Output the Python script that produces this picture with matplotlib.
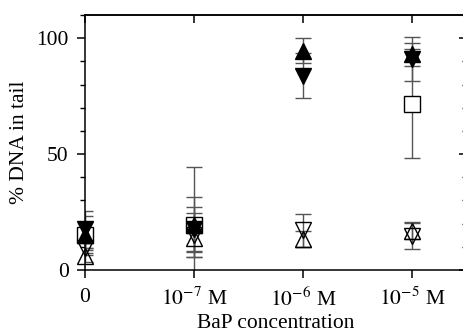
"""Comet assay: % DNA in tail against BaP concentration."""

import matplotlib

matplotlib.use("Agg")
import matplotlib.pyplot as plt
from matplotlib.ticker import MultipleLocator

plt.rcParams["font.family"] = ["Liberation Serif", "DejaVu Serif"]
plt.rcParams["mathtext.fontset"] = "stix"

concentrations = ["0", r"$10^{-7}$ M", r"$10^{-6}$ M", r"$10^{-5}$ M"]

# mean and SD for each group
filled_up_mean = [15.0, 19.5, 94.6, 93.0]
filled_up_sd = [5.5, 11.8, 5.4, 5.0]
filled_down_mean = [17.5, 17.5, 83.8, 91.0]
filled_down_sd = [8.0, 9.5, 9.7, 9.5]
square_mean = [15.0, 19.2, float("nan"), 71.8]
square_sd = [8.5, 25.3, float("nan"), 23.7]
open_up_mean = [6.0, 13.8, 13.5, 16.7]
open_up_sd = [2.5, 8.1, 3.5, 3.4]
open_down_mean = [9.5, 15.0, 17.1, 14.7]
open_down_sd = [2.0, 9.4, 7.0, 5.8]

FS = 15.5
W, H = 464, 334
fig = plt.figure(figsize=(W / 100, H / 100), dpi=100)
ax = fig.add_axes([85 / W, 64 / H, 381.5 / W, 255 / H])

x = list(range(len(concentrations)))
series = [
    (square_mean, square_sd, "s", "white"),
    (filled_up_mean, filled_up_sd, "^", "black"),
    (filled_down_mean, filled_down_sd, "v", "black"),
    (open_up_mean, open_up_sd, "^", "none"),
    (open_down_mean, open_down_sd, "v", "none"),
]
for mean, sd, marker, face in series:
    line, caps, bars = ax.errorbar(
        x, mean, yerr=sd, fmt=marker, ms=11.3, mfc=face, mec="black", mew=1.0,
        ecolor="#555555", elinewidth=1.0, capsize=5.8, capthick=1.8,
    )
    line.set_clip_on(False)
    for cap in caps:
        cap.set_color("black")

ax.set_xlim(0, 3.5)
ax.set_ylim(0, 110)
ax.set_xticks(x)
ax.set_xticklabels(concentrations, fontsize=FS)
ax.set_yticks([0, 50, 100])
ax.yaxis.set_minor_locator(MultipleLocator(10))
ax.tick_params(axis="y", labelsize=FS)
ax.tick_params(axis="x", which="major", direction="out", length=5.8, width=1.1,
               pad=7, top=False)
ax.tick_params(axis="y", which="major", direction="out", length=5.8, width=1.1, pad=6)
ax.tick_params(axis="y", which="minor", direction="out", length=3.6, width=1.0)

# inward ticks on the top and right edges
top = ax.secondary_xaxis("top")
top.set_xticks(x)
top.tick_params(direction="in", length=5.8, width=1.1, labeltop=False)
right = ax.secondary_yaxis("right")
right.set_yticks([0, 50, 100])
right.yaxis.set_minor_locator(MultipleLocator(10))
right.tick_params(which="major", direction="in", length=5.8, width=1.1, labelright=False)
right.tick_params(which="minor", direction="in", length=3.6, width=1.0)

for spine in ax.spines.values():
    spine.set_linewidth(1.1)
top.spines["top"].set_linewidth(1.1)
right.spines["right"].set_linewidth(1.1)

ax.set_xlabel("BaP concentration", fontsize=FS, labelpad=2)
ax.set_ylabel("% DNA in tail", fontsize=FS, labelpad=5)

fig.savefig("out.png", dpi=100)
